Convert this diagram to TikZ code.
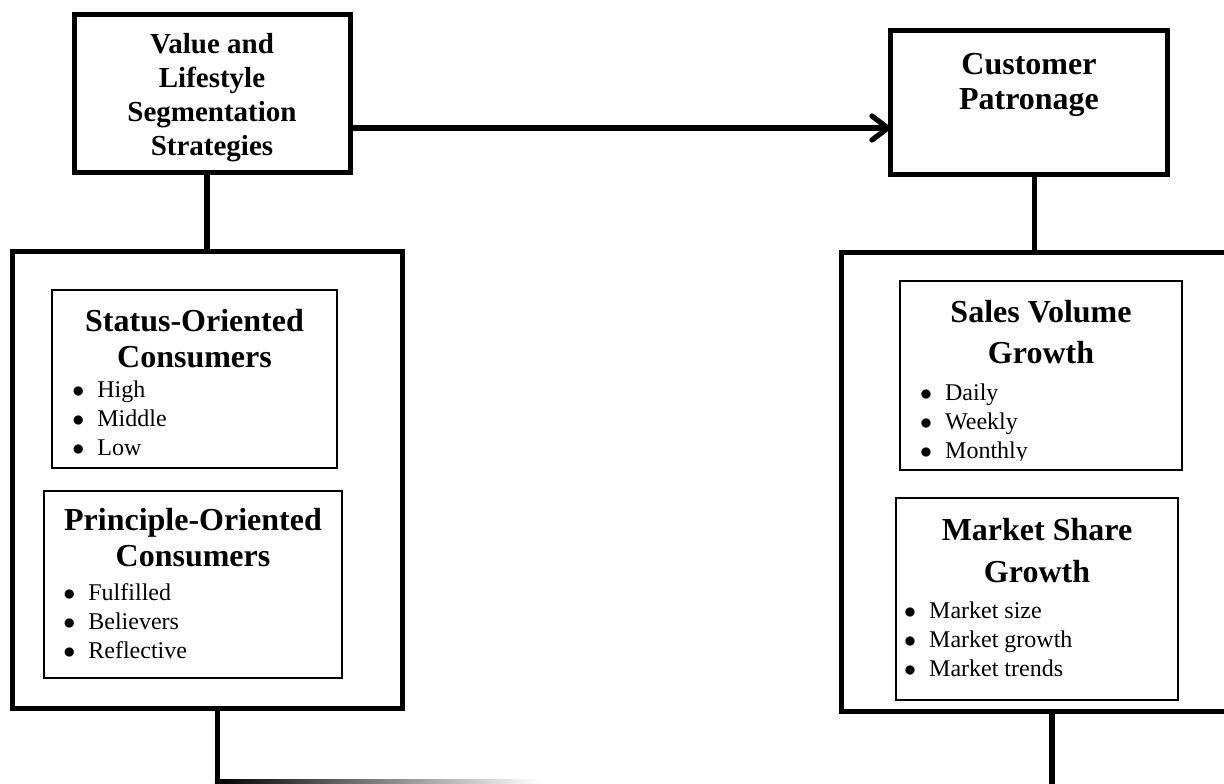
\documentclass[tikz,border=0pt]{standalone}
\usepackage{fontspec}
\setmainfont{Liberation Serif}
\usepackage{tikz}
\usetikzlibrary{positioning, arrows.meta}
\usepackage{xcolor}

\newcommand{\bitem}[1]{\makebox[12.5pt][l]{$\bullet$}#1}

\tikzset{
  outerbox/.style={draw, line width=2.5pt, outer sep=0pt, inner sep=0pt},
  innerbox/.style={draw, line width=1pt, outer sep=0pt, inner sep=0pt},
  headtext/.style={inner sep=0pt, align=center},
  listtext/.style={inner sep=0pt, align=left, font=\fontsize{12}{14.5}\selectfont},
  link/.style={line width=2.6pt}
}

\begin{document}
\begin{tikzpicture}[x=0.5pt, y=-0.5pt, >={Straight Barb[length=8pt,width=12pt,round]}]
  \useasboundingbox (0,0) rectangle (1224,783);

  % top boxes
  \node[outerbox, minimum width=138pt, minimum height=79pt] (vls) at (212,93.5) {};
  \node[headtext, font=\bfseries\fontsize{14.5}{17}\selectfont, below=9.25pt of vls.north] (vlshead)
    {Value and\\Lifestyle\\Segmentation\\Strategies};
  \node[outerbox, minimum width=138.5pt, minimum height=72pt] (cp) at (1029,102.5) {};
  \node[headtext, font=\bfseries\fontsize{16}{17.5}\selectfont, below=11.25pt of cp.north] (cphead)
    {Customer\\Patronage};

  % outer frames
  \node[outerbox, minimum width=195pt, minimum height=228.5pt] (lsb) at (207,479.5) {};
  \node[outerbox, minimum width=193pt, minimum height=229.75pt] (rsb) at (1034.5,481.75) {};

  % left side
  \node[innerbox, minimum width=142.5pt, minimum height=89pt] (st) at (194.5,379) {};
  \node[headtext, font=\bfseries\fontsize{16}{18}\selectfont, below=9.5pt of st.north] (sthead)
    {Status-Oriented\\Consumers};
  \node[listtext, below right=45.3pt and 10pt of st.north west] (stlist)
    {\bitem{High}\\\bitem{Middle}\\\bitem{Low}};

  \node[innerbox, minimum width=149pt, minimum height=93.5pt] (pr) at (193,584.5) {};
  \node[headtext, font=\bfseries\fontsize{16}{18}\selectfont, below=8.5pt of pr.north] (prhead)
    {Principle-Oriented\\Consumers};
  \node[listtext, below right=46.3pt and 9.5pt of pr.north west] (prlist)
    {\bitem{Fulfilled}\\\bitem{Believers}\\\bitem{Reflective}};

  % right side
  \node[innerbox, minimum width=141.25pt, minimum height=94.5pt] (sv) at (1041,375.5) {};
  \node[headtext, font=\bfseries\fontsize{16}{20.5}\selectfont, below=9.5pt of sv.north] (svhead)
    {Sales Volume\\Growth};
  \begin{scope}
    \clip (sv.north west) rectangle ([yshift=5pt]sv.south east);
    \node[listtext, below right=51.3pt and 10pt of sv.north west] (svlist)
      {\bitem{Daily}\\\bitem{Weekly}\\\bitem{Monthly}};
  \end{scope}

  \node[innerbox, minimum width=141.25pt, minimum height=100.75pt] (ms) at (1037,599) {};
  \node[headtext, font=\bfseries\fontsize{16}{21}\selectfont, below=9.75pt of ms.north] (mshead)
    {Market Share\\Growth};
  \node[listtext, below right=51.5pt and 4pt of ms.north west] (mslist)
    {\bitem{Market size}\\\bitem{Market growth}\\\bitem{Market trends}};

  % connectors
  \coordinate (arw) at (0,128);
  \coordinate (lend) at (217.5,779);
  \coordinate (rend) at (1052,795);
  \draw[link, ->] (vls.east |- arw) -- (cp.west |- arw);
  \draw[link] (vls.south -| lsb.north) -- (lsb.north);
  \draw[link] (cp.south -| rsb.north) -- (rsb.north);
  \draw[link] (lsb.south -| lend) -- (lend);
  \draw[link] (rsb.south -| rend) -- (rend);
  \shade[left color=black, middle color=black!60, right color=white]
    ([xshift=-1.3pt]lend) rectangle (540,784);
\end{tikzpicture}
\end{document}
